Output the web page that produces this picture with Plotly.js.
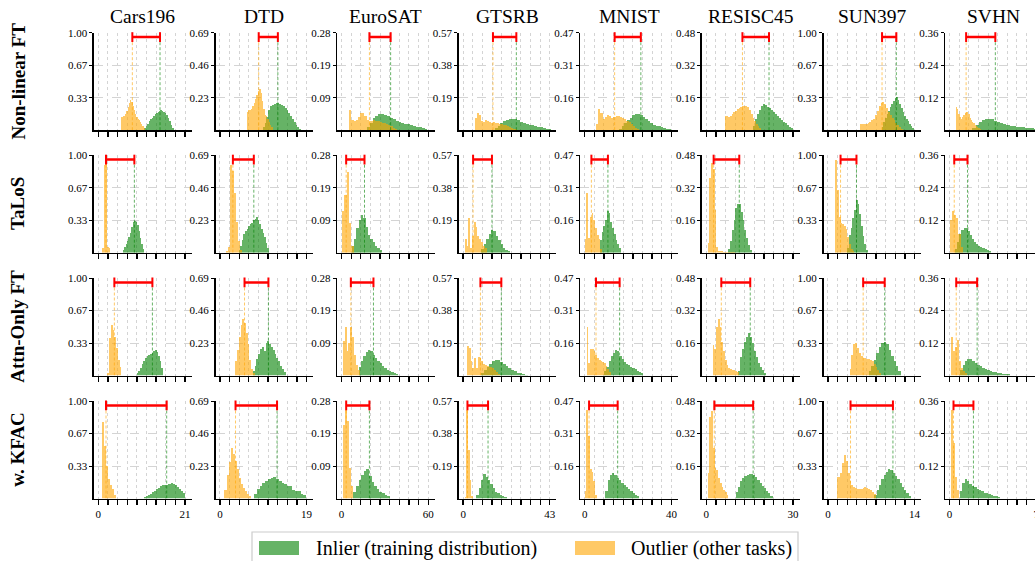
<!DOCTYPE html>
<html>
<head>
<meta charset="utf-8">
<script src="https://cdn.plot.ly/plotly-3.0.1.min.js"></script>
<style>
html,body{margin:0;padding:0;overflow:hidden;background:#fff;}
#chart{width:1050px;height:561px;}
</style>
</head>
<body>
<div id="chart"></div>
<script>
// ---------------- DATA ----------------
const datasets = ["Cars196","DTD","EuroSAT","GTSRB","MNIST","RESISC45","SUN397","SVHN"];
const methods = ["Non-linear FT","TaLoS","Attn-Only FT","w. KFAC"];
const xMax = [21,19,60,43,40,30,14,7];
const yMax = [1.00,0.69,0.28,0.57,0.47,0.48,1.00,0.36];
const legendLabels = ["Inlier (training distribution)","Outlier (other tasks)"];

// Row 1: Non-linear FT
const nlInStart = [11.1, 9.4, 17.5, 15.7, 15.9, 16, 8.7, 1.85];
const nlInWidth = [0.36, 0.4, 2, 1.4, 1.2, 0.7, 0.26, 0.25];
const nlInHeights = [
 [0.02,0.04,0.06,0.09,0.11,0.13,0.15,0.17,0.18,0.19,0.2,0.205,0.2,0.19,0.18,0.16,0.13,0.09,0.05,0.02],
 [0.02,0.05,0.09,0.14,0.17,0.18,0.185,0.19,0.19,0.185,0.18,0.17,0.155,0.14,0.12,0.1,0.08,0.06,0.04,0.025,0.01],
 [0.01,0.02,0.034,0.042,0.046,0.046,0.044,0.04,0.036,0.032,0.027,0.024,0.021,0.019,0.017,0.015,0.012,0.01,0.008,0.006,0.004],
 [0.012,0.025,0.04,0.053,0.061,0.065,0.066,0.064,0.058,0.05,0.044,0.038,0.033,0.028,0.024,0.02,0.016,0.012,0.009,0.006],
 [0.008,0.018,0.033,0.048,0.061,0.071,0.076,0.077,0.073,0.065,0.053,0.043,0.034,0.027,0.022,0.018,0.014,0.011,0.008,0.005],
 [0.02,0.055,0.08,0.1,0.118,0.127,0.122,0.115,0.108,0.1,0.09,0.08,0.07,0.06,0.05,0.042,0.035,0.027,0.018,0.01],
 [0.03,0.08,0.13,0.17,0.2,0.24,0.27,0.3,0.33,0.34,0.31,0.27,0.23,0.19,0.15,0.12,0.09,0.06,0.04,0.02],
 [0.008,0.018,0.03,0.037,0.042,0.043,0.04,0.035,0.03,0.026,0.022,0.019,0.016,0.014,0.012,0.011,0.01,0.009,0.008,0.007,0.006]
];
const nlOutStart = [5.6, 5.9, 5.3, 5.8, 5.2, 6.4, 5.2, 0.52];
const nlOutWidth = [0.3, 0.3, 1.5, 1, 1, 0.6, 0.3, 0.1];
const nlOutHeights = [
 [0.14,0.15,0.15,0.17,0.2,0.24,0.28,0.31,0.29,0.25,0.21,0.17,0.14,0.12,0.10,0.08,0.06,0.04,0.02],
 [0.13,0.14,0.14,0.15,0.17,0.19,0.22,0.25,0.28,0.29,0.26,0.21,0.15,0.11,0.10,0.08,0.06,0.04,0.02],
 [0.058,0.03,0.026,0.028,0.038,0.048,0.05,0.042,0.03,0.025,0.027,0.028,0.027,0.026,0.024,0.022,0.02,0.017,0.014,0.011,0.007,0.003],
 [0.07,0.098,0.09,0.055,0.05,0.058,0.055,0.046,0.045,0.05,0.045,0.04,0.038,0.036,0.032,0.028,0.024,0.019,0.014,0.009,0.005],
 [0.03,0.1,0.085,0.056,0.065,0.072,0.07,0.06,0.066,0.069,0.068,0.065,0.06,0.054,0.045,0.038,0.03,0.02,0.012,0.005],
 [0.07,0.068,0.067,0.072,0.08,0.088,0.096,0.104,0.11,0.116,0.118,0.118,0.117,0.112,0.1,0.08,0.06,0.045,0.032,0.02,0.01],
 [0.06,0.062,0.063,0.066,0.07,0.085,0.1,0.12,0.16,0.2,0.25,0.28,0.29,0.27,0.23,0.19,0.16,0.13,0.1,0.07,0.05,0.03,0.015],
 [0.084,0.08,0.058,0.048,0.043,0.05,0.056,0.062,0.066,0.068,0.06,0.046,0.038,0.03,0.025,0.02,0.015,0.011,0.007,0.004]
];
const nlOutMean = [8.24, 8.5, 19.3, 14.8, 13.8, 12.5, 8.74, 1.34];
const nlInMean  = [14.95, 12.7, 34, 26.4, 25.9, 21.7, 11.05, 3.7];

// Row 2: TaLoS
const tlInStart = [5.9, 4.1, 7.1, 9, 7, 7.6, 3.1, 0.45];
const tlInWidth = [0.35, 0.35, 1.6, 1.2, 0.8, 0.62, 0.28, 0.17];
const tlInHeights = [
 [0.03,0.06,0.09,0.12,0.16,0.2,0.26,0.31,0.33,0.32,0.28,0.22,0.15,0.09,0.04],
 [0.02,0.05,0.09,0.13,0.155,0.17,0.19,0.2,0.21,0.23,0.24,0.25,0.23,0.2,0.17,0.14,0.11,0.07,0.03],
 [0.02,0.04,0.07,0.095,0.109,0.1,0.075,0.05,0.04,0.03,0.02,0.013,0.008],
 [0.02,0.05,0.08,0.11,0.135,0.125,0.1,0.075,0.05,0.03,0.017,0.008],
 [0.06,0.1,0.13,0.16,0.2,0.19,0.15,0.12,0.09,0.06,0.04,0.025],
 [0.02,0.06,0.11,0.16,0.22,0.24,0.24,0.2,0.16,0.11,0.07,0.04,0.015],
 [0.05,0.18,0.25,0.36,0.44,0.54,0.5,0.4,0.27,0.17,0.085,0.03],
 [0.012,0.04,0.07,0.085,0.092,0.09,0.08,0.065,0.05,0.04,0.032,0.026,0.021,0.017,0.013,0.009,0.005]
];
const tlOutStart = [0.9, 1.28, 0.3, 0.8, 0, 0.45, 1.2, 0];
const tlOutWidth = [0.4, 0.45, 1.6, 0.9, 0.8, 0.6, 0.28, 0.18];
const tlOutHeights = [
 [0.05,0.9,0.92,0.06,0.05],
 [0.01,0.04,0.62,0.58,0.42,0.22,0.08,0.02],
 [0.12,0.165,0.233,0.085,0.02],
 [0.08,0.04,0.2,0.03,0.1,0.18,0.15,0.1,0.08,0.06,0.04,0.025],
 [0.065,0.29,0.07,0.17,0.19,0.16,0.12,0.085,0.065,0.02],
 [0.05,0.37,0.44,0.41,0.21,0.03,0.01,0.008,0.006,0.005,0.005,0.004,0.004,0.003,0.003,0.002],
 [0.95,0.64,0.37,0.3,0.29,0.27,0.24,0.16,0.09,0.04,0.02],
 [0.12,0.155,0.14,0.128,0.07,0.02]
];
const tlOutMean = [1.86, 2.84, 3.2, 4.94, 3.07, 2.53, 2.04, 0.38];
const tlInMean  = [8.73, 7.43, 15.9, 14.3, 10.7, 11.4, 4.61, 1.45];

// Row 3: Attn-Only FT
const aoInStart = [9.3, 7.2, 12, 9, 9, 11, 6.6, 0.85];
const aoInWidth = [0.4, 0.4, 1.6, 1.35, 1, 0.7, 0.4, 0.2];
const aoInHeights = [
 [0.027,0.05,0.078,0.113,0.147,0.18,0.198,0.215,0.222,0.232,0.25,0.266,0.24,0.2,0.147,0.078],
 [0.03,0.07,0.12,0.15,0.19,0.2,0.17,0.23,0.243,0.22,0.2,0.18,0.15,0.125,0.1,0.07,0.045,0.025],
 [0.024,0.041,0.055,0.067,0.074,0.07,0.06,0.05,0.042,0.035,0.028,0.022,0.017,0.013,0.01,0.008,0.005],
 [0.015,0.033,0.052,0.07,0.085,0.092,0.09,0.08,0.066,0.053,0.042,0.032,0.024,0.017,0.012,0.008,0.005],
 [0.02,0.04,0.07,0.092,0.108,0.124,0.116,0.095,0.078,0.065,0.057,0.05,0.043,0.036,0.029,0.022,0.015,0.01],
 [0.02,0.09,0.13,0.165,0.19,0.208,0.19,0.16,0.12,0.09,0.06,0.04,0.025,0.012],
 [0.05,0.095,0.16,0.23,0.297,0.338,0.348,0.32,0.264,0.196,0.145,0.095,0.044],
 [0.02,0.038,0.053,0.06,0.06,0.055,0.048,0.04,0.034,0.029,0.025,0.021,0.017,0.014,0.012,0.01,0.008,0.007,0.006,0.005]
];
const aoOutStart = [2.2, 3.4, 0.9, 1.9, 0.9, 2.2, 3.5, 0.1];
const aoOutWidth = [0.42, 0.38, 1.3, 0.9, 0.8, 0.6, 0.3, 0.16];
const aoOutHeights = [
 [0.03,0.38,0.52,0.47,0.39,0.28,0.16,0.09],
 [0.1,0.18,0.27,0.36,0.4,0.37,0.3,0.22,0.11,0.045,0.02],
 [0.1,0.14,0.07,0.093,0.14,0.112,0.06,0.031,0.015],
 [0.17,0.16,0.083,0.044,0.1,0.044,0.11,0.1,0.083,0.065,0.06,0.055,0.052,0.05,0.045,0.035,0.022,0.01],
 [0.235,0.06,0.13,0.13,0.12,0.1,0.085,0.075,0.068,0.065,0.06,0.045,0.03,0.015],
 [0.148,0.13,0.24,0.277,0.24,0.167,0.122,0.078,0.054,0.037,0.03,0.028,0.025,0.02,0.015],
 [0.07,0.21,0.32,0.33,0.28,0.23,0.2,0.18,0.175,0.17,0.165,0.16,0.15,0.12,0.09,0.06,0.03],
 [0.144,0.09,0.107,0.13,0.052,0.028,0.018,0.008]
];
const aoOutMean = [3.88, 5.39, 6.44, 8.57, 5.2, 5.18, 5.69, 0.54];
const aoInMean  = [13.1, 10.63, 22.1, 18.95, 16.1, 15.2, 9.17, 2.23];

// Row 4: w. KFAC
const kfInStart = [11, 7.5, 8.2, 6.6, 9.5, 10.2, 7.5, 0.85];
const kfInWidth = [0.5, 0.6, 1.8, 1.15, 1.05, 0.75, 0.37, 0.19];
const kfInHeights = [
 [0.02,0.03,0.04,0.05,0.065,0.08,0.095,0.11,0.125,0.135,0.14,0.14,0.145,0.157,0.15,0.135,0.12,0.1,0.08,0.055],
 [0.03,0.065,0.09,0.11,0.125,0.14,0.148,0.151,0.14,0.125,0.11,0.1,0.09,0.09,0.06,0.05,0.05,0.03,0.025],
 [0.02,0.036,0.054,0.068,0.08,0.084,0.065,0.046,0.035,0.027,0.02,0.015,0.011,0.008],
 [0.021,0.06,0.109,0.142,0.128,0.109,0.086,0.06,0.04,0.03,0.02,0.014,0.01],
 [0.034,0.09,0.114,0.125,0.114,0.098,0.087,0.077,0.066,0.055,0.045,0.036,0.027,0.018,0.01],
 [0.03,0.059,0.084,0.1,0.111,0.118,0.121,0.121,0.116,0.105,0.092,0.078,0.062,0.051,0.038,0.026,0.013],
 [0.038,0.089,0.14,0.198,0.242,0.276,0.3,0.29,0.265,0.235,0.2,0.16,0.12,0.085,0.055,0.03],
 [0.026,0.057,0.071,0.065,0.055,0.048,0.043,0.036,0.03,0.026,0.022,0.019,0.016,0.013,0.011,0.009,0.007]
];
const kfOutStart = [0.8, 1, 0.9, 0.8, 0, 0.45, 1.4, 0.1];
const kfOutWidth = [0.48, 0.45, 1.4, 0.82, 0.8, 0.6, 0.3, 0.16];
const kfOutHeights = [
 [0.78,0.54,0.33,0.2,0.14,0.095,0.04],
 [0.06,0.165,0.26,0.355,0.315,0.268,0.207,0.145,0.104,0.075,0.05,0.035,0.02],
 [0.21,0.255,0.224,0.087,0.036],
 [0.01,0.517,0.284,0.107,0.012],
 [0.035,0.427,0.3,0.14,0.13,0.082,0.018],
 [0.128,0.4,0.432,0.25,0.15,0.14,0.1,0.075,0.055,0.043,0.03,0.018],
 [0.22,0.22,0.26,0.36,0.445,0.38,0.26,0.175,0.14,0.12,0.105,0.095,0.095,0.1,0.105,0.115,0.11,0.1,0.085,0.065,0.05],
 [0.327,0.204,0.081,0.032]
];
const kfOutMean = [1.86, 3.42, 3.22, 2.14, 2, 2.76, 3.65, 0.32];
const kfInMean  = [16.56, 12.52, 19.3, 12.36, 15.2, 16.2, 10.5, 1.93];

// ---------------- BUILD ----------------
const rows = [
 {inS:nlInStart,inW:nlInWidth,inH:nlInHeights,outS:nlOutStart,outW:nlOutWidth,outH:nlOutHeights,outM:nlOutMean,inM:nlInMean},
 {inS:tlInStart,inW:tlInWidth,inH:tlInHeights,outS:tlOutStart,outW:tlOutWidth,outH:tlOutHeights,outM:tlOutMean,inM:tlInMean},
 {inS:aoInStart,inW:aoInWidth,inH:aoInHeights,outS:aoOutStart,outW:aoOutWidth,outH:aoOutHeights,outM:aoOutMean,inM:aoInMean},
 {inS:kfInStart,inW:kfInWidth,inH:kfInHeights,outS:kfOutStart,outW:kfOutWidth,outH:kfOutHeights,outM:kfOutMean,inM:kfInMean}
];

const W = 1050, H = 561;
const FONT = "Liberation Serif, Times New Roman, serif";
const colLeft = c => 94 + 121.6 * c;
const rowTop = [32.7, 155.2, 278, 401];
const PW = 97.5, PH = 97.5;
const px = x => x / W;
const py = y => 1 - y / H;

const GREEN = "#008000", ORANGE = "#ffa500";
const traces = [];
const layout = {
  width: W, height: H,
  margin: {l:0, r:0, t:0, b:0, pad:0},
  paper_bgcolor: "#fff", plot_bgcolor: "rgba(0,0,0,0)",
  showlegend: false, barmode: "overlay", bargap: 0,
  font: {family: FONT, color: "#000"},
  annotations: [], shapes: []
};

function centers(start, width, h) {
  return h.map((_, i) => start + (i + 0.5) * width);
}

for (let r = 0; r < 4; r++) {
  const R = rows[r];
  for (let c = 0; c < 8; c++) {
    const k = r * 8 + c + 1;
    const xa = k === 1 ? "x" : "x" + k;
    const ya = k === 1 ? "y" : "y" + k;
    const M = xMax[c], Y = yMax[c];
    const yr = 0.955 * Y;

    traces.push({type:"bar", xaxis:xa, yaxis:ya, x:centers(R.inS[c], R.inW[c], R.inH[c]), y:R.inH[c],
      width:R.inW[c], marker:{color:GREEN, line:{width:0}}, opacity:0.6, name:legendLabels[0], hoverinfo:"skip"});
    traces.push({type:"bar", xaxis:xa, yaxis:ya, x:centers(R.outS[c], R.outW[c], R.outH[c]), y:R.outH[c],
      width:R.outW[c], marker:{color:ORANGE, line:{width:0}}, opacity:0.6, name:legendLabels[1], hoverinfo:"skip"});
    traces.push({type:"scatter", mode:"lines", xaxis:xa, yaxis:ya, x:[R.inM[c], R.inM[c]], y:[0, yr],
      line:{color:"rgba(0,128,0,0.6)", width:1, dash:"3px,2px"}, hoverinfo:"skip"});
    traces.push({type:"scatter", mode:"lines", xaxis:xa, yaxis:ya, x:[R.outM[c], R.outM[c]], y:[0, yr],
      line:{color:"rgba(255,165,0,0.6)", width:1, dash:"3px,2px"}, hoverinfo:"skip"});
    traces.push({type:"scatter", mode:"lines+markers", xaxis:xa, yaxis:ya, x:[R.outM[c], R.inM[c]], y:[yr, yr],
      line:{color:"#ff0000", width:2.5}, cliponaxis:false,
      marker:{symbol:"line-ns", size:7, line:{color:"#ff0000", width:2}}, hoverinfo:"skip"});

    const xt = [];
    for (let i = 0; i < 10; i++) xt.push(M * i / 9);
    const xtt = xt.map((v, i) => (r === 3 && (i === 0 || i === 9)) ? String(Math.round(v)) : "");
    const yt = [Y / 3, 2 * Y / 3, Y];
    const ytt = yt.map(v => v.toFixed(2));

    const left = colLeft(c), top = rowTop[r];
    layout[k === 1 ? "xaxis" : "xaxis" + k] = {
      domain:[px(left), px(left + PW)], anchor:ya, range:[-0.05 * M, 1.075 * M],
      tickmode:"array", tickvals:xt, ticktext:xtt, ticks:"outside", ticklen:5, tickwidth:1.3, tickcolor:"#000",
      showline:true, linecolor:"#000", linewidth:1.6, showgrid:true, gridcolor:"#d4d4d4", griddash:"dot", gridwidth:1,
      zeroline:false, tickfont:{family:FONT, size:11, color:"#000"}, fixedrange:true
    };
    layout[k === 1 ? "yaxis" : "yaxis" + k] = {
      domain:[py(top + PH), py(top)], anchor:xa, range:[0, Y],
      tickmode:"array", tickvals:yt, ticktext:ytt, ticks:"outside", ticklen:3, tickwidth:1, tickcolor:"#000",
      showline:true, linecolor:"#000", linewidth:1.6, showgrid:true, gridcolor:"#d4d4d4", griddash:"dash", gridwidth:1,
      zeroline:false, tickfont:{family:FONT, size:11, color:"#000"}, fixedrange:true
    };
  }
}

// column titles
for (let c = 0; c < 8; c++) {
  layout.annotations.push({text:datasets[c], xref:"paper", yref:"paper", x:px(colLeft(c) + PW / 2), y:py(17),
    xanchor:"center", yanchor:"middle", showarrow:false, font:{family:FONT, size:19.5, color:"#000"}});
}
// row labels
for (let r = 0; r < 4; r++) {
  layout.annotations.push({text:"<b>" + methods[r] + "</b>", xref:"paper", yref:"paper", x:px(18), y:py(rowTop[r] + PH / 2),
    xanchor:"center", yanchor:"middle", textangle:-90, showarrow:false, font:{family:FONT, size:19, color:"#000"}});
}
// legend
layout.shapes.push({type:"rect", xref:"paper", yref:"paper", x0:px(252), x1:px(798), y0:py(532), y1:py(575),
  line:{color:"#cccccc", width:1.2}, fillcolor:"#fff"});
layout.shapes.push({type:"rect", xref:"paper", yref:"paper", x0:px(259), x1:px(299), y0:py(541), y1:py(555),
  line:{width:0}, fillcolor:GREEN, opacity:0.6});
layout.shapes.push({type:"rect", xref:"paper", yref:"paper", x0:px(575), x1:px(615), y0:py(541), y1:py(555),
  line:{width:0}, fillcolor:ORANGE, opacity:0.6});
layout.annotations.push({text:legendLabels[0], xref:"paper", yref:"paper", x:px(314), y:py(548),
  xanchor:"left", yanchor:"middle", showarrow:false, font:{family:FONT, size:20, color:"#000"}});
layout.annotations.push({text:legendLabels[1], xref:"paper", yref:"paper", x:px(629), y:py(548),
  xanchor:"left", yanchor:"middle", showarrow:false, font:{family:FONT, size:20, color:"#000"}});

Plotly.newPlot("chart", traces, layout, {staticPlot:true, displayModeBar:false});
</script>
</body>
</html>
